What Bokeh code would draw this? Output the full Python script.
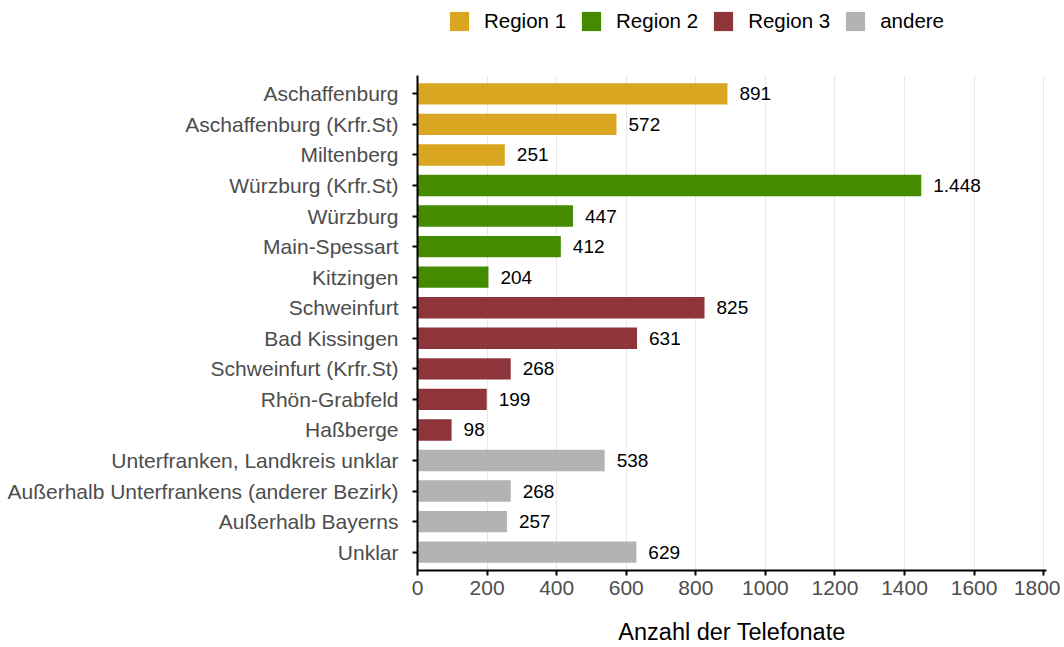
from bokeh.plotting import figure
from bokeh.layouts import column
from bokeh.models import FactorRange, Range1d, Legend, LegendItem, ColumnDataSource, FixedTicker
from bokeh.core.properties import value
from bokeh.embed import file_html
from bokeh.resources import INLINE

categories = ["Aschaffenburg", "Aschaffenburg (Krfr.St)", "Miltenberg",
              "Würzburg (Krfr.St)", "Würzburg", "Main-Spessart", "Kitzingen",
              "Schweinfurt", "Bad Kissingen", "Schweinfurt (Krfr.St)", "Rhön-Grabfeld", "Haßberge",
              "Unterfranken, Landkreis unklar", "Außerhalb Unterfrankens (anderer Bezirk)",
              "Außerhalb Bayerns", "Unklar"]
counts = [891, 572, 251, 1448, 447, 412, 204, 825, 631, 268, 199, 98, 538, 268, 257, 629]
groups = ["Region 1"] * 3 + ["Region 2"] * 4 + ["Region 3"] * 5 + ["andere"] * 4
group_names = ["Region 1", "Region 2", "Region 3", "andere"]
group_colors = ["#DAA520", "#458B00", "#8E353C", "#B3B3B3"]
x_ticks = [0, 200, 400, 600, 800, 1000, 1200, 1400, 1600, 1800]

FONT = "Liberation Sans"
W = 1060

# ---- main chart ----
yr = FactorRange(factors=list(reversed(categories)), range_padding=0.1,
                 range_padding_units="absolute")
p = figure(width=W, height=607, y_range=yr, x_range=Range1d(0, 1808),
           output_backend="svg", toolbar_location=None,
           min_border_left=417, min_border_right=14, min_border_top=35, min_border_bottom=76)
p.outline_line_color = None
p.background_fill_color = "white"

for g, c in zip(group_names, group_colors):
    idx = [i for i, gg in enumerate(groups) if gg == g]
    src = ColumnDataSource(dict(y=[categories[i] for i in idx], x=[counts[i] for i in idx]))
    p.hbar(y="y", right="x", left=0, height=0.7, source=src, fill_color=c, line_color=None)

labels = ["{:,}".format(v).replace(",", ".") for v in counts]
lsrc = ColumnDataSource(dict(y=categories, x=counts, t=labels))
p.text(x="x", y="y", text="t", source=lsrc, x_offset=12, text_align="left",
       text_baseline="middle", text_font=value(FONT), text_font_size="19px", text_color="black")

p.ygrid.grid_line_color = None
p.xgrid.grid_line_color = "#E8E8E8"
p.xgrid.grid_line_width = 1
p.xaxis.ticker = FixedTicker(ticks=x_ticks)
p.xgrid.ticker = FixedTicker(ticks=x_ticks)

for ax in (p.xaxis[0], p.yaxis[0]):
    ax.axis_line_color = "black"
    ax.axis_line_width = 2
    ax.major_tick_line_color = "black"
    ax.major_tick_line_width = 2
    ax.major_tick_out = 5
    ax.major_tick_in = 0
    ax.minor_tick_line_color = None
    ax.major_label_text_font = FONT
    ax.major_label_text_font_size = "21px"
    ax.major_label_text_color = "#4D4D4D"
    ax.major_label_standoff = 5

p.yaxis.major_label_standoff = 14
p.xaxis.axis_label = "Anzahl der Telefonate"
p.xaxis.axis_label_text_font = FONT
p.xaxis.axis_label_text_font_size = "23.5px"
p.xaxis.axis_label_text_font_style = "normal"
p.xaxis.axis_label_text_color = "black"
p.xaxis.axis_label_text_line_height = 1.0
p.xaxis.axis_label_standoff = 21

# ---- legend strip on top (frame aligned with the main chart's frame) ----
lf = figure(width=W, height=40, x_range=Range1d(0, 1), y_range=Range1d(0, 1),
            output_backend="svg", toolbar_location=None,
            min_border_left=0, min_border_right=0, min_border_top=0, min_border_bottom=0)
lf.axis.visible = False
lf.grid.visible = False
lf.outline_line_color = None
items = []
for g, c in zip(group_names, group_colors):
    # zero-width placeholder bar outside the visible range: only its legend swatch is seen
    r = lf.hbar(y=[5], right=[0], left=0, height=0.7, fill_color=c, line_color=None)
    items.append(LegendItem(label=g, renderers=[r]))
legend = Legend(items=items, orientation="horizontal", location=(30, 7),
                glyph_width=24, glyph_height=24, label_standoff=13, spacing=13,
                padding=0, margin=0, border_line_alpha=0, background_fill_alpha=0,
                label_text_font=FONT, label_text_font_size="20.5px", label_text_color="black")
lf.add_layout(legend, "center")

layout = column(lf, p, spacing=0)
open("out.html", "w").write(file_html(layout, INLINE))
